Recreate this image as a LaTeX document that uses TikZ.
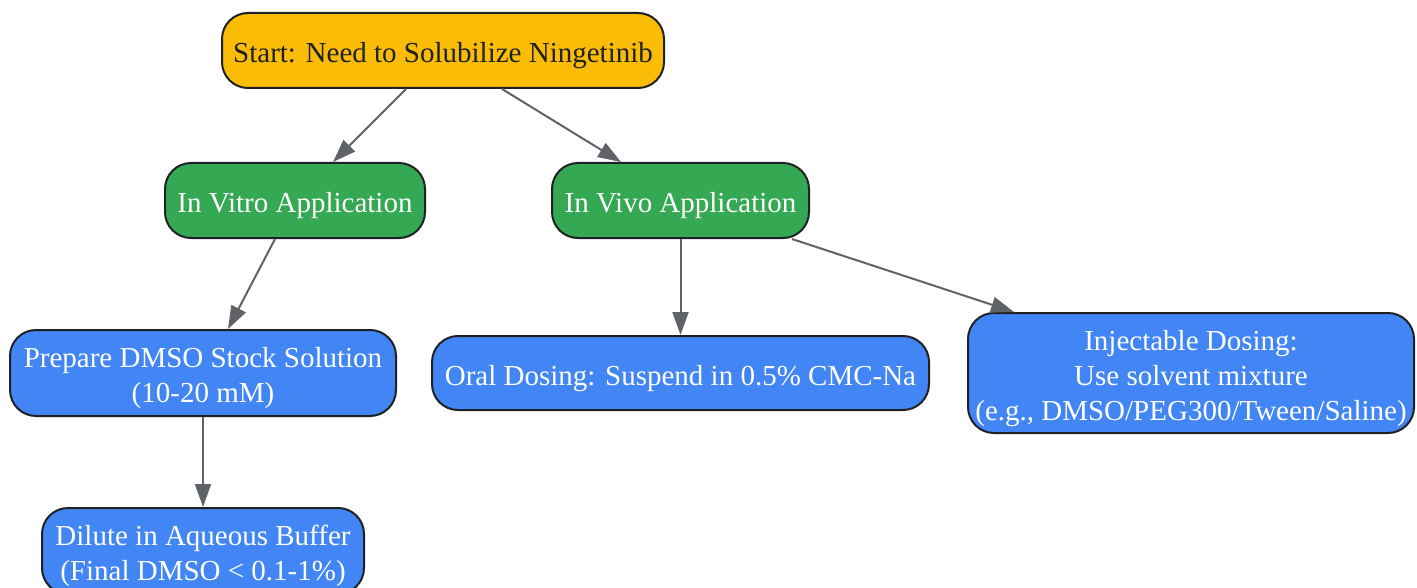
\documentclass[tikz,border=0pt]{standalone}
\usepackage{fontspec}
\setmainfont{Liberation Serif}
\usetikzlibrary{arrows.meta,calc}
\definecolor{startfill}{HTML}{FBBC05}
\definecolor{appfill}{HTML}{34A853}
\definecolor{stepfill}{HTML}{4285F4}
\definecolor{edgegray}{HTML}{5F6368}
\definecolor{inkdark}{HTML}{202124}
\newcommand{\lowtext}{\rule{0pt}{15.5pt}}
\tikzset{
    box/.style={draw=inkdark, line width=1pt, rounded corners=13pt, align=center,
        font=\fontsize{14.5pt}{17.5pt}\selectfont, inner sep=0pt},
    startbox/.style={box, fill=startfill, text=inkdark},
    appbox/.style={box, fill=appfill, text=white},
    stepbox/.style={box, fill=stepfill, text=white},
    flow/.style={draw=edgegray, line width=1pt, -{Triangle[length=11.5pt,width=8pt]}}
}

\begin{document}
\begin{tikzpicture}[x=0.5pt, y=-0.5pt]
    \useasboundingbox (0,0) rectangle (1417,588);
    \clip (0,0) rectangle (1417,588);
    \node[startbox, minimum width=221pt, minimum height=37.5pt] (start) at (443,50.5)
      {\lowtext Start: Need to Solubilize Ningetinib};
    \node[appbox, minimum width=130pt, minimum height=37.5pt] (vitro) at (295,200.5)
      {\lowtext In Vitro Application};
    \node[appbox, minimum width=128.5pt, minimum height=37.5pt] (vivo) at (680.5,200.5)
      {\lowtext In Vivo Application};
    \node[stepbox, minimum width=193pt, minimum height=43pt] (stock) at (203,373)
      {\lowtext Prepare DMSO Stock Solution\\(10-20 mM)};
    \node[stepbox, minimum width=161pt, minimum height=43pt] (dilute) at (203,551)
      {\lowtext Dilute in Aqueous Buffer\\(Final DMSO < 0.1-1\%)};
    \node[stepbox, minimum width=248.5pt, minimum height=37pt] (oral) at (680.5,373)
      {\lowtext Oral Dosing: Suspend in 0.5\% CMC-Na};
    \node[stepbox, minimum width=223pt, minimum height=60pt] (inject) at (1191,373)
      {\lowtext Injectable Dosing:\\Use solvent mixture\\(e.g., DMSO/PEG300/Tween/Saline)};

    \draw[flow] ($(start.south)+(-37,0)$) -- ($(vitro.north)+(38,0)$);
    \draw[flow] ($(start.south)+(59,0)$) -- ($(vivo.north)+(-59.5,0)$);
    \draw[flow] ($(vitro.south)+(-20,0)$) -- ($(stock.north)+(25,0)$);
    \draw[flow] (stock) -- (dilute);
    \draw[flow] (vivo) -- (oral);
    \draw[flow] ($(vivo.south)+(111.5,0)$) -- ($(inject.north)+(-177,0)$);
\end{tikzpicture}
\end{document}
